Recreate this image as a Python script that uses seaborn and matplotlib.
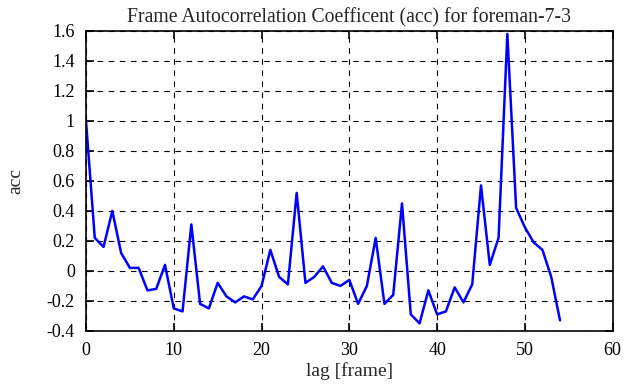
import numpy as np
import pandas as pd
import matplotlib
matplotlib.use("Agg")
import matplotlib.pyplot as plt
import seaborn as sns
from matplotlib.ticker import FuncFormatter

# data (lag 0..54)
lags = list(range(55))
acc = [1.00, 0.22, 0.16, 0.40, 0.12, 0.02, 0.02, -0.13, -0.12, 0.04,
       -0.25, -0.27, 0.31, -0.22, -0.25, -0.08, -0.17, -0.21, -0.17, -0.19,
       -0.10, 0.14, -0.04, -0.09, 0.52, -0.08, -0.04, 0.03, -0.08, -0.10,
       -0.06, -0.22, -0.10, 0.22, -0.22, -0.16, 0.45, -0.29, -0.35, -0.13,
       -0.29, -0.27, -0.11, -0.21, -0.09, 0.57, 0.04, 0.22, 1.58, 0.42,
       0.29, 0.19, 0.14, -0.04, -0.33]

df = pd.DataFrame({"lag": lags, "acc": acc})

sns.set_style("ticks")
plt.rcParams['font.family'] = ['Liberation Serif', 'DejaVu Serif']
plt.rcParams['axes.unicode_minus'] = False

fig = plt.figure(figsize=(6.3, 3.87), dpi=100)
ax = fig.add_axes([0.1365, 0.145, 0.836, 0.775])

sns.lineplot(data=df, x="lag", y="acc", color="#0000ff", linewidth=1.8, ax=ax)

ax.set_xlim(0, 60)
ax.set_ylim(-0.4, 1.6)
ax.set_xticks(np.arange(0, 61, 10))
ax.set_yticks(np.arange(-0.4, 1.61, 0.2))
ax.yaxis.set_major_formatter(FuncFormatter(lambda v, p: "%g" % round(v, 1)))

ax.grid(True, color="black", linestyle=(0, (5, 5)), linewidth=0.8)
for s in ax.spines.values():
    s.set_linewidth(1.2)
    s.set_color("black")
ax.tick_params(direction="in", length=6, width=1.2, top=True, right=True,
               labelsize=13, pad=8, colors="black")

ax.set_title("Frame Autocorrelation Coefficent (acc) for foreman-7-3", fontsize=14.2, pad=6)
ax.set_xlabel("lag [frame]", fontsize=14, labelpad=2)
ax.set_ylabel("acc", fontsize=14, labelpad=16)

fig.savefig("out.png", dpi=100)
